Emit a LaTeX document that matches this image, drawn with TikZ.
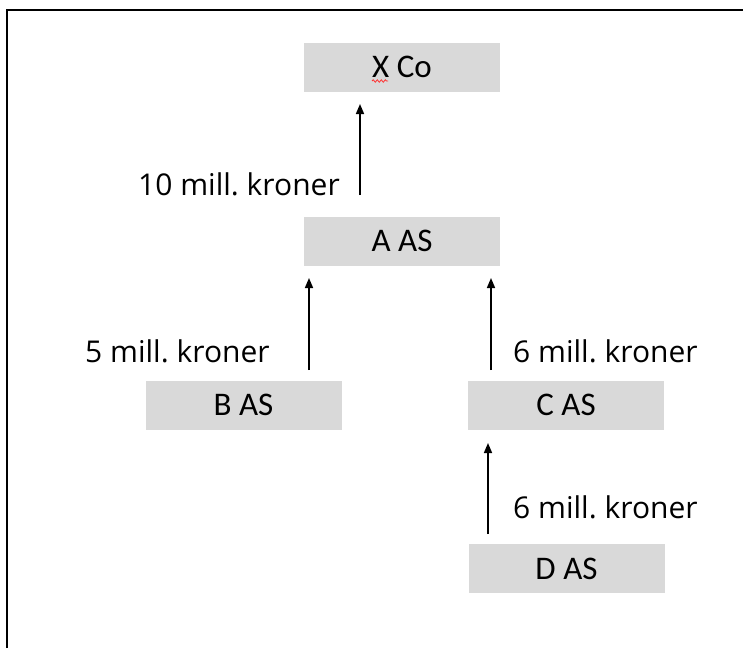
\documentclass[tikz,border=0pt]{standalone}
\usepackage{fontspec}
\setmainfont{Open Sans}
\newfontfamily\boxfont{Carlito}
\usetikzlibrary{arrows.meta,decorations.pathmorphing}
\definecolor{boxgray}{HTML}{D9D9D9}
\tikzset{
  entity/.style={rectangle, fill=boxgray, draw=none, inner sep=0pt, minimum width=196pt, minimum height=49pt, font=\boxfont\fontsize{33}{38}\selectfont},
  amount/.style={anchor=base west, inner sep=0pt, font=\frenchspacing\fontsize{30}{36}\selectfont},
  arr/.style={line width=1.6pt, -{Triangle[length=10pt,width=8pt]}},
  frame/.style={line width=2pt}
}
\begin{document}
\begin{tikzpicture}[x=1pt,y=-1pt]
\useasboundingbox (0,0) rectangle (743,648);
\coordinate (f1) at (7,648);
\coordinate (f2) at (7,10);
\coordinate (f3) at (743,10);
\draw[frame] (f1) -- (f2) -- (f3);

\node[entity] (X) at (402,67) {X Co};
\node[entity] (A) at (402,241) {A AS};
\node[entity] (B) at (243.5,405) {B AS};
\node[entity] (C) at (566,405) {C AS};
\node[entity] (D) at (566.5,568.5) {D AS};

\coordinate (xa1) at (360,195);
\coordinate (xa2) at (360,104);
\coordinate (ba1) at (309,370);
\coordinate (ba2) at (309,278);
\coordinate (ca1) at (491,370);
\coordinate (ca2) at (491,278);
\coordinate (dc1) at (488,534);
\coordinate (dc2) at (488,443);
\draw[arr] (xa1) -- (xa2);
\draw[arr] (ba1) -- (ba2);
\draw[arr] (ca1) -- (ca2);
\draw[arr] (dc1) -- (dc2);

\node[amount] (l1) at (138,195) {10 mill. kroner};
\node[amount] (l2) at (85,362) {5 mill. kroner};
\node[amount] (l3) at (513,362) {6 mill. kroner};
\node[amount] (l4) at (513,518) {6 mill. kroner};

\coordinate (s1) at (372,81);
\coordinate (s2) at (388,81);
\draw[red!80, line width=0.8pt, decorate, decoration={snake, amplitude=1.2pt, segment length=4pt}] (s1) -- (s2);
\end{tikzpicture}
\end{document}
